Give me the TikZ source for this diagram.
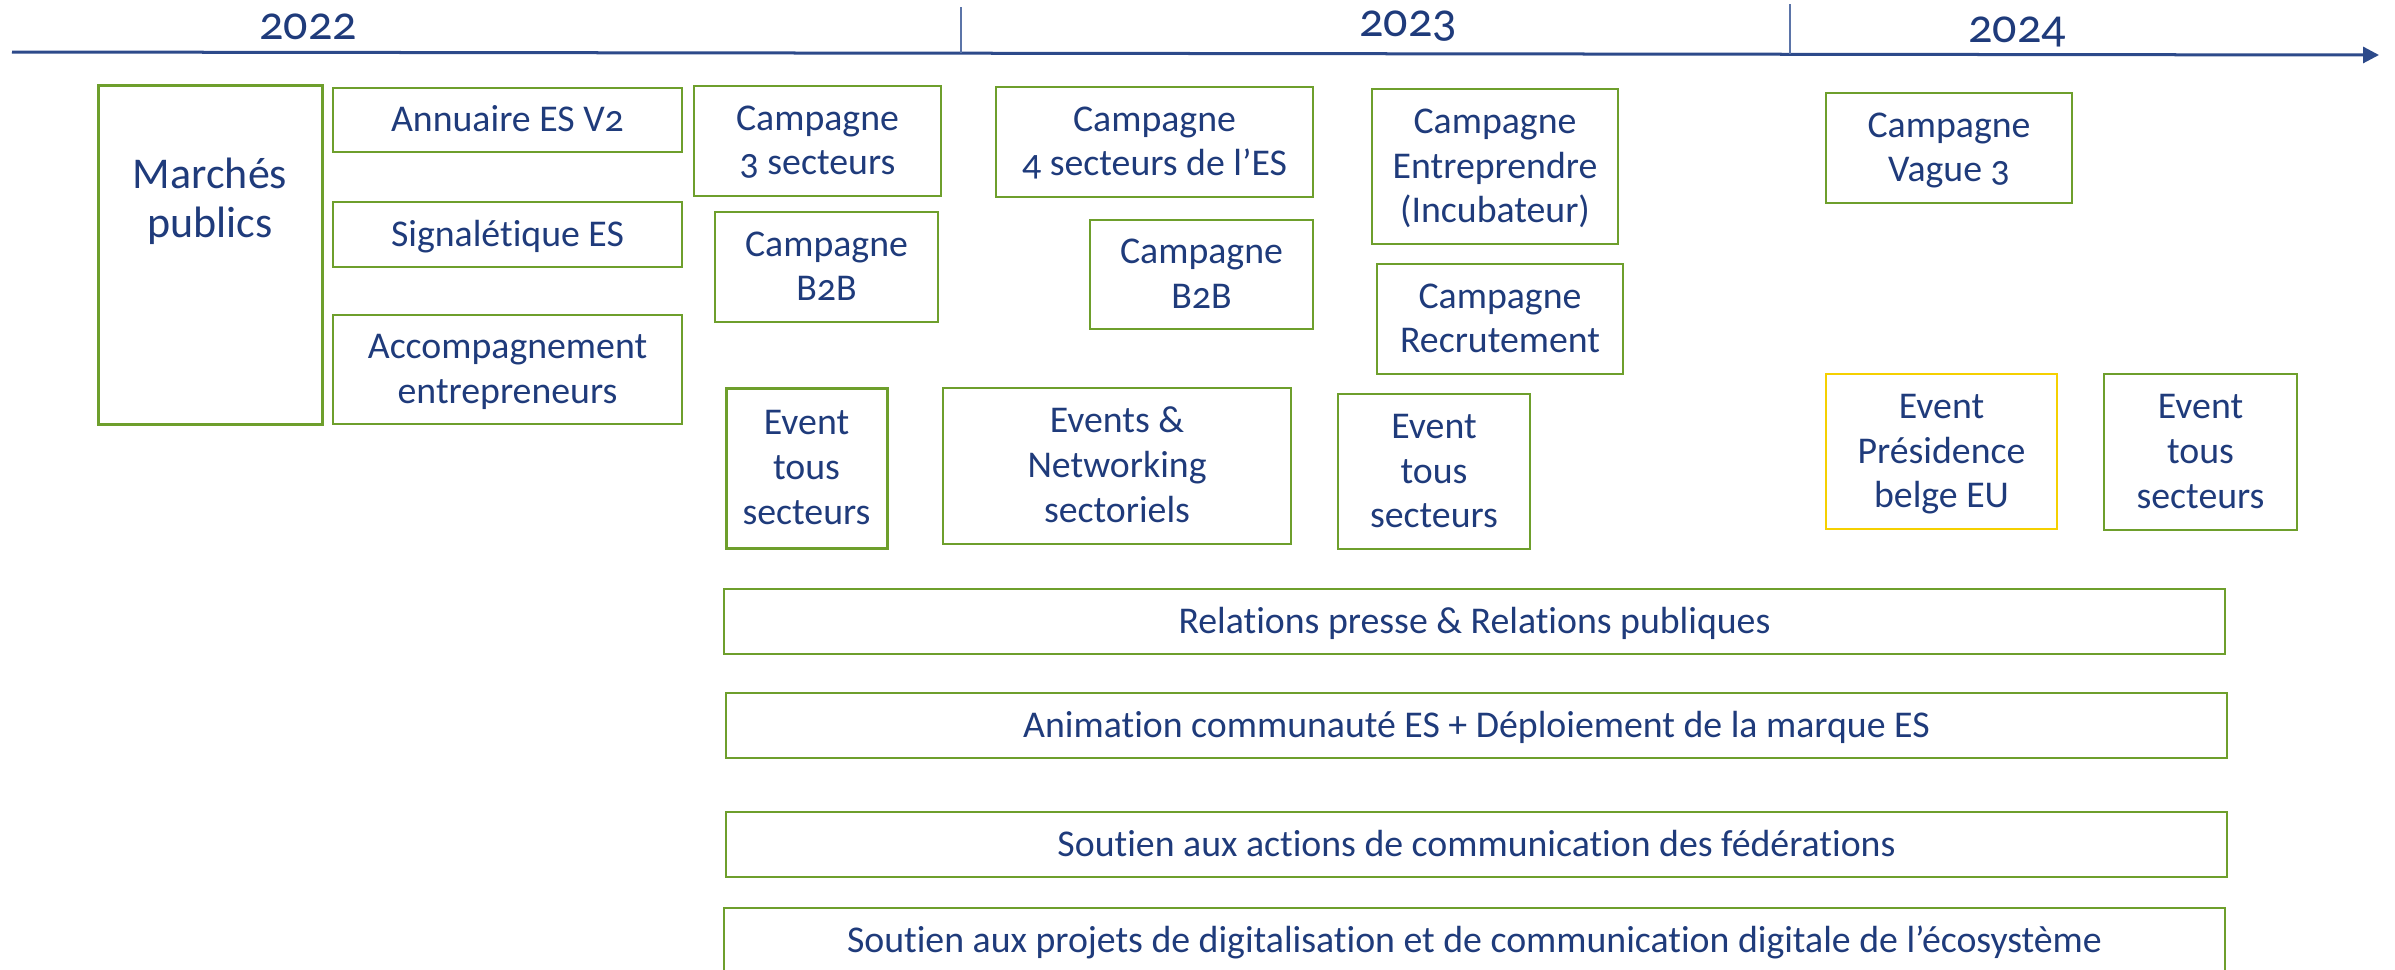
\documentclass[tikz,border=0pt]{standalone}
\usepackage{fontspec}
\setmainfont[Numbers=OldStyle,Ligatures=NoCommon]{Carlito}
\usetikzlibrary{arrows.meta}
\definecolor{navy}{HTML}{1F3B7B}
\definecolor{axisblue}{HTML}{2D4A8A}
\definecolor{tickblue}{HTML}{5B74A8}
\definecolor{boxgreen}{HTML}{6E9F2C}
\definecolor{boxyellow}{HTML}{F5D000}
\newcommand\st{\rule[-0.24\baselineskip]{0pt}{\baselineskip}}
\newcommand\bx[7][]{\node[box,#1,minimum width={(#5-#3)*0.01cm},minimum height={(#6-#4)*0.01cm}] (#2) at ({(#3+#5)/2},{(#4+#6)/2}) {#7};}
\begin{document}
\begin{tikzpicture}[x=0.01cm,y=-0.01cm,
  box/.style={draw=boxgreen, line width=0.02cm, inner sep=0pt, align=center, text=navy,
              font=\fontsize{10.75}{12.69}\selectfont},
  thickbox/.style={line width=0.03cm},
  yellowbox/.style={draw=boxyellow},
  yearlabel/.style={text=navy, font=\fontsize{13.7}{16}\selectfont, anchor=base, inner sep=0pt},
  bigtext/.style={text=navy, align=center, inner sep=0pt, font=\fontsize{12.5}{14.2}\selectfont},
  axisline/.style={draw=axisblue, line width=0.03cm, -{Triangle[length=0.16cm,width=0.16cm]}},
  tickline/.style={draw=tickblue, line width=0.02cm}]
\useasboundingbox (0,0) rectangle (2395,969);
\clip (0,0) rectangle (2395,969);

% time axis
\coordinate (axstart) at (12,52);
\coordinate (axend) at (2379,55);
\draw[axisline] (axstart) -- (axend);
\coordinate (t1top) at (961,7);
\coordinate (t1bot) at (961,53);
\coordinate (t2top) at (1790,4);
\coordinate (t2bot) at (1790,54);
\draw[tickline] (t1top) -- (t1bot);
\draw[tickline] (t2top) -- (t2bot);

\node[yearlabel] (y2022) at (308,39) {2022};
\node[yearlabel] (y2023) at (1408,36) {2023};
\node[yearlabel] (y2024) at (2017,42) {2024};

% 2022 column
\bx[thickbox]{marches}{98}{85}{322}{424}{}
\node[bigtext] (marchestext) at (210,200) {\st Marchés\\\st publics};
\bx{annuaire}{333}{88}{682}{152}{\st Annuaire ES V2}
\bx{signal}{333}{202}{682}{267}{\st Signalétique ES}
\bx{accomp}{333}{315}{682}{424}{\st Accompagnement\\\st entrepreneurs}

% campaigns
\bx{c3s}{694}{86}{941}{196}{\st Campagne\\\st 3 secteurs}
\bx{b2bone}{715}{212}{938}{322}{\st Campagne\\\st B2B}
\bx{c4s}{996}{87}{1313}{197}{\st Campagne\\\st 4 secteurs de l’ES}
\bx{b2btwo}{1090}{220}{1313}{329}{\st Campagne\\\st B2B}
\bx{entr}{1372}{89}{1618}{244}{\st Campagne\\\st Entreprendre\\\st (Incubateur)}
\bx{recr}{1377}{264}{1623}{374}{\st Campagne\\\st Recrutement}
\bx{vague}{1826}{93}{2072}{203}{\st Campagne\\\st Vague 3}

% events
\bx[thickbox]{evone}{726}{388}{887}{548}{\st Event\\\st tous\\\st secteurs}
\bx{evnet}{943}{388}{1291}{544}{\st Events \&\\\st Networking\\\st sectoriels}
\bx{evtwo}{1338}{394}{1530}{549}{\st Event\\\st tous\\\st secteurs}
\bx[yellowbox]{pres}{1826}{374}{2057}{529}{\st Event\\\st Présidence\\\st belge EU}
\bx{evthree}{2104}{374}{2297}{530}{\st Event\\\st tous\\\st secteurs}

% long bars
\bx{rp}{724}{589}{2225}{654}{\st Relations presse \& Relations publiques}
\bx{anim}{726}{693}{2227}{758}{\st Animation communauté ES + Déploiement de la marque ES}
\bx{fed}{726}{812}{2227}{877}{\st Soutien aux actions de communication des fédérations}
\bx{digit}{724}{908}{2225}{973}{\st Soutien aux projets de digitalisation et de communication digitale de l’écosystème}
\end{tikzpicture}
\end{document}
